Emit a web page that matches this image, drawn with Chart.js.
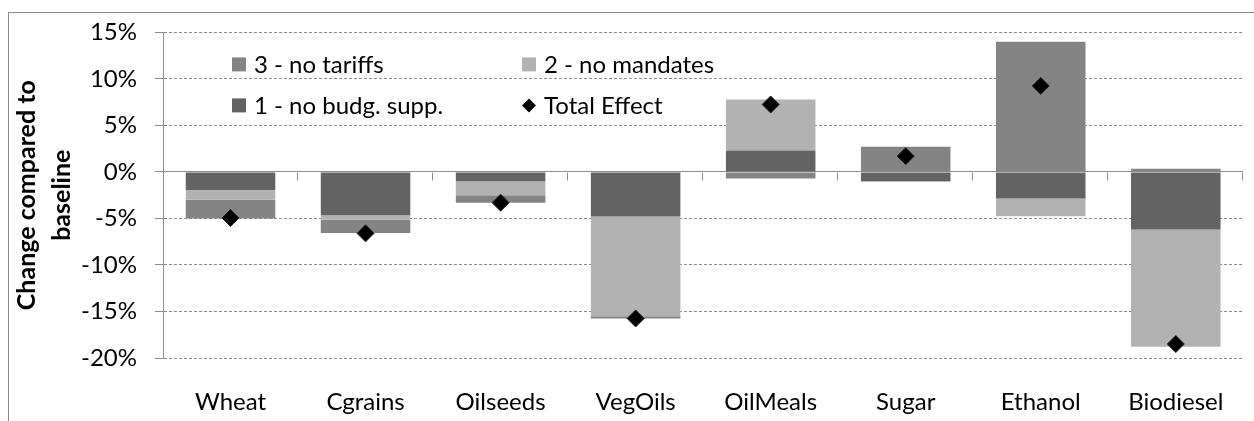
<!DOCTYPE html>
<html>
<head>
<meta charset="utf-8">
<script src="https://cdn.jsdelivr.net/npm/chart.js@4/dist/chart.umd.min.js"></script>
<style>
  html, body { margin: 0; padding: 0; background: #ffffff; overflow: hidden; }
  #wrap { position: relative; width: 1254px; height: 421px; }
  #frame { position: absolute; left: 8px; top: 12px; width: 1300px; height: 500px;
           border: 1px solid #8a8a8a; pointer-events: none; }
  canvas { position: absolute; left: 0; top: 0; }
</style>
</head>
<body>
<div id="wrap">
  <canvas id="c" width="1254" height="421"></canvas>
  <div id="frame"></div>
</div>
<script>
const categories = ['Wheat', 'Cgrains', 'Oilseeds', 'VegOils', 'OilMeals', 'Sugar', 'Ethanol', 'Biodiesel'];
const noBudgSupp = [-1.95, -4.65, -1.0, -4.8, 2.3, -1.0, -2.85, -6.2];
const noMandates = [-1.05, -0.5, -1.5, -10.7, 5.5, -0.05, -1.9, -12.6];
const noTariffs  = [-2.0, -1.4, -0.8, -0.25, -0.7, 2.7, 14.0, 0.35];
const totalEffect = [-4.95, -6.6, -3.3, -15.75, 7.25, 1.7, 9.25, -18.5];
const yTicks = [15, 10, 5, 0, -5, -10, -15, -20];

const FONT = 'Lato, "Open Sans", sans-serif';
const C_DARK = '#636363', C_LIGHT = '#b2b2b2', C_MED = '#848484';
const GRID = '#8c8c8c';

const legendPlugin = {
  id: 'insideLegend',
  afterDatasetsDraw(chart) {
    const ctx = chart.ctx, a = chart.chartArea;
    const items = [
      {label: chart.data.datasets[2].label, color: C_MED, col: 0, row: 0},
      {label: chart.data.datasets[1].label, color: C_LIGHT, col: 1, row: 0},
      {label: chart.data.datasets[0].label, color: C_DARK, col: 0, row: 1},
      {label: chart.data.datasets[3].label, diamond: true, col: 1, row: 1}
    ];
    ctx.save();
    ctx.font = '24px ' + FONT;
    ctx.textBaseline = 'middle';
    ctx.fillStyle = '#000';
    items.forEach(it => {
      const bx = a.left + 69 + it.col * 290;
      const cy = a.top + 32 + it.row * 41;
      if (it.diamond) {
        const cx = bx + 7, r = 7;
        ctx.beginPath();
        ctx.moveTo(cx, cy - r); ctx.lineTo(cx + r, cy); ctx.lineTo(cx, cy + r); ctx.lineTo(cx - r, cy);
        ctx.closePath();
        ctx.fillStyle = '#000'; ctx.fill();
      } else {
        ctx.fillStyle = it.color;
        ctx.fillRect(bx, cy - 7, 14, 14);
      }
      ctx.fillStyle = '#000';
      ctx.fillText(it.label, bx + 22, cy + 1);
    });
    ctx.restore();
  }
};

const catTicksPlugin = {
  id: 'catTicks',
  afterDatasetsDraw(chart) {
    const x = chart.scales.x, y = chart.scales.y, ctx = chart.ctx;
    const y0 = Math.round(y.getPixelForValue(0)) + 0.5;
    ctx.save();
    ctx.strokeStyle = GRID;
    ctx.lineWidth = 1;
    ctx.beginPath();
    for (let i = 1; i <= categories.length; i++) {
      const xp = i < categories.length
        ? (x.getPixelForValue(i - 1) + x.getPixelForValue(i)) / 2
        : chart.chartArea.right;
      const xr = Math.round(xp) - 0.5;
      ctx.moveTo(xr, y0);
      ctx.lineTo(xr, y0 + 8);
    }
    ctx.stroke();
    ctx.restore();
  }
};

new Chart(document.getElementById('c'), {
  type: 'bar',
  data: {
    labels: categories,
    datasets: [
      {label: '1 - no budg. supp.', data: noBudgSupp, backgroundColor: C_DARK, stack: 'bars', order: 1},
      {label: '2 - no mandates', data: noMandates, backgroundColor: C_LIGHT, stack: 'bars', order: 1},
      {label: '3 - no tariffs', data: noTariffs, backgroundColor: C_MED, stack: 'bars', order: 1},
      {label: 'Total Effect', type: 'line', data: totalEffect, showLine: false, stack: 'total', order: 0,
       pointStyle: 'rectRot', pointRadius: 8.5, pointBackgroundColor: '#000', pointBorderColor: '#222',
       pointBorderWidth: 1, borderColor: '#000', backgroundColor: '#000'}
    ]
  },
  options: {
    responsive: false,
    animation: false,
    events: [],
    layout: {padding: {left: 0, right: 5, top: 29, bottom: 0}},
    plugins: {legend: {display: false}, tooltip: {enabled: false}},
    datasets: {bar: {categoryPercentage: 0.663, barPercentage: 1.0}},
    scales: {
      x: {
        stacked: true,
        offset: true,
        grid: {display: false, drawTicks: false},
        border: {display: false},
        ticks: {color: '#000', font: {family: FONT, size: 24}, padding: 30, maxRotation: 0},
        afterFit(s) { s.height = 63; }
      },
      y: {
        stacked: true,
        min: -20, max: 15,
        afterBuildTicks(s) { s.ticks = yTicks.map(v => ({value: v})); },
        ticks: {color: '#000', font: {family: FONT, size: 24}, padding: 18,
                callback: v => v + '%'},
        grid: {color: GRID, lineWidth: 1, tickLength: 8, tickColor: GRID, tickBorderDash: []},
        border: {display: true, color: GRID, width: 1,
                 dash: c => (c.tick && c.tick.value === 0) ? [] : [3, 2]},
        title: {display: true, text: ['Change compared to', 'baseline'], color: '#000',
                font: {family: FONT, size: 25, weight: 'bold', lineHeight: 1.4}, padding: {top: 9.5, bottom: 0}},
        afterFit(s) { s.width = 163; }
      }
    }
  },
  plugins: [legendPlugin, catTicksPlugin]
});
</script>
</body>
</html>
